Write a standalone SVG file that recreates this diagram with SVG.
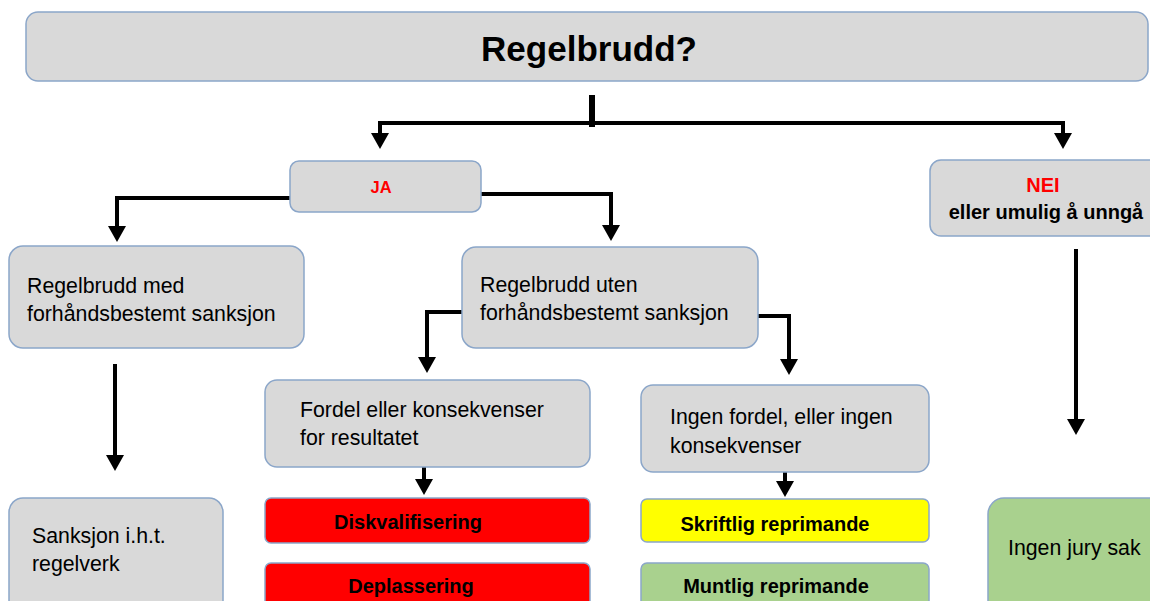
<svg xmlns="http://www.w3.org/2000/svg" width="1150" height="601" viewBox="0 0 1150 601">
<style>
.box{stroke:#8ba6c9;stroke-width:1.5}
.g{fill:#d9d9d9}
.r{fill:#ff0000}
.y{fill:#ffff00}
.gr{fill:#a9d18e}
.t{font-family:"Liberation Sans",Arial,sans-serif;font-size:21.3px;fill:#000}
.b{font-family:"Liberation Sans",Arial,sans-serif;font-size:20px;font-weight:bold;fill:#000;text-anchor:middle}
.red{fill:#ff0000}
.c{fill:none;stroke:#000;stroke-width:4;marker-end:url(#ah)}
</style>
<defs>
<marker id="ah" markerUnits="userSpaceOnUse" viewBox="0 -10 17 20" markerWidth="17" markerHeight="20" refX="1" refY="0" orient="auto">
<path d="M0,-9 L16,0 L0,9 z" fill="#000"/>
</marker>
</defs>
<rect width="1150" height="601" fill="#fff"/>
<g id="connectors">
<path d="M592,95 V127" fill="none" stroke="#000" stroke-width="6"/>
<path class="c" d="M592,123 H380 V134"/>
<path class="c" d="M592,123 H1063 V134"/>
<path class="c" d="M290,198 H117 V227"/>
<path class="c" d="M481,194 H611 V226"/>
<path class="c" d="M462,312 H427 V358"/>
<path class="c" d="M758,316 H789 V360"/>
<path class="c" d="M115,364 V456"/>
<path class="c" d="M424,467 V480"/>
<path class="c" d="M785,472 V482"/>
<path class="c" d="M1076,249 V420"/>
</g>
<g id="n-top">
<rect class="box g" x="26" y="12" width="1122" height="69" rx="12"/>
<text x="589" y="61" class="b" style="font-size:35px">Regelbrudd?</text>
</g>
<g id="n-ja">
<rect class="box g" x="290" y="161" width="191" height="51" rx="9"/>
<text x="381" y="193" class="b red" style="font-size:16.5px">JA</text>
</g>
<g id="n-nei">
<rect class="box g" x="930" y="160" width="240" height="76" rx="11"/>
<text x="1043" y="192" class="b red">NEI</text>
<text x="1046" y="219" class="b">eller umulig å unngå</text>
</g>
<g id="n-med">
<rect class="box g" x="9" y="246" width="295" height="102" rx="14"/>
<text x="27" y="293" class="t">Regelbrudd med</text>
<text x="27" y="321" class="t">forhåndsbestemt sanksjon</text>
</g>
<g id="n-uten">
<rect class="box g" x="462" y="247" width="296" height="101" rx="14"/>
<text x="480" y="292" class="t">Regelbrudd uten</text>
<text x="480" y="320" class="t">forhåndsbestemt sanksjon</text>
</g>
<g id="n-fordel">
<rect class="box g" x="265" y="380" width="325" height="87" rx="12"/>
<text x="300" y="417" class="t">Fordel eller konsekvenser</text>
<text x="300" y="445" class="t">for resultatet</text>
</g>
<g id="n-ingenfordel">
<rect class="box g" x="641" y="385" width="288" height="87" rx="12"/>
<text x="670" y="424" class="t">Ingen fordel, eller ingen</text>
<text x="670" y="453" class="t">konsekvenser</text>
</g>
<g id="n-sanksjon">
<rect class="box g" x="9" y="498" width="214" height="150" rx="14"/>
<text x="32" y="543" class="t">Sanksjon i.h.t.</text>
<text x="32" y="571" class="t">regelverk</text>
</g>
<g id="n-disk">
<rect class="box r" x="265" y="498" width="325" height="45" rx="6"/>
<text x="408" y="529" class="b">Diskvalifisering</text>
</g>
<g id="n-deplassering">
<rect class="box r" x="265" y="563" width="325" height="60" rx="6"/>
<text x="411" y="593" class="b">Deplassering</text>
</g>
<g id="n-skriftlig">
<rect class="box y" x="641" y="499" width="288" height="43" rx="6"/>
<text x="775" y="531" class="b">Skriftlig reprimande</text>
</g>
<g id="n-muntlig">
<rect class="box gr" x="641" y="563" width="288" height="60" rx="6"/>
<text x="776" y="593" class="b">Muntlig reprimande</text>
</g>
<g id="n-jury">
<rect class="box gr" x="988" y="498" width="200" height="150" rx="16"/>
<text x="1008" y="555" class="t">Ingen jury sak</text>
</g>
</svg>
